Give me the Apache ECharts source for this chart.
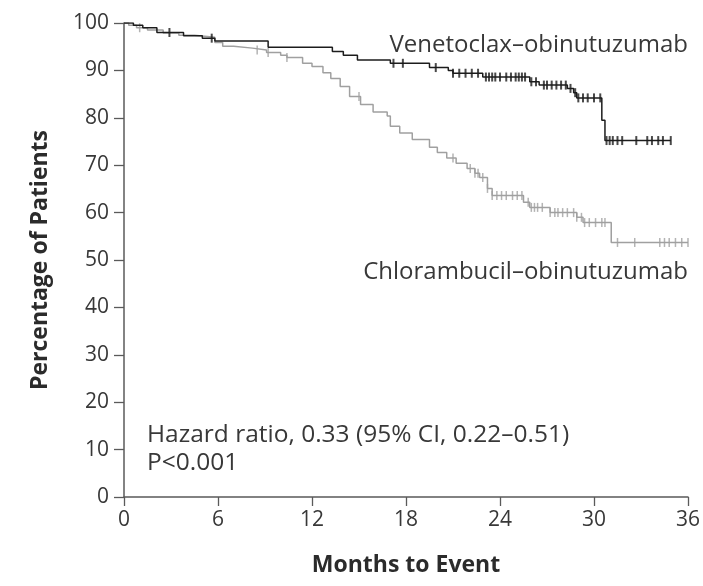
<!DOCTYPE html>
<html>
<head>
<meta charset="utf-8">
<script src="https://cdn.jsdelivr.net/npm/echarts@6/dist/echarts.min.js"></script>
<style>
  html, body { margin: 0; padding: 0; background: #fff; }
  #chart { width: 703px; height: 586px; }
</style>
</head>
<body>
<div id="chart"></div>
<script>
// Kaplan–Meier estimates: event times (months) and survival (%) after each step
const venTimes = [0, 0.6, 1.2, 2.1, 3.8, 5.0, 5.8, 9.2, 13.3, 14.0, 14.9, 17.0, 19.5, 20.7, 21.0, 22.9, 25.9, 26.5, 28.3, 28.7, 28.9, 30.5, 30.7];
const venSurv  = [100, 99.5, 99.0, 98.0, 97.3, 96.8, 96.2, 94.9, 94.0, 93.2, 92.2, 91.5, 90.6, 90.0, 89.4, 88.6, 87.6, 86.9, 86.2, 85.3, 84.2, 79.5, 75.2];
const venCensored = [2.9, 5.6, 17.2, 17.8, 19.9, 21.0, 21.4, 21.8, 22.2, 22.6, 23.1, 23.3, 23.5, 23.7, 24.0, 24.4, 24.7, 25.0, 25.2, 25.4, 25.6, 26.0, 26.3, 26.8, 27.0, 27.3, 27.6, 27.9, 28.2, 28.5, 28.8, 29.0, 29.3, 29.6, 30.0, 30.4, 30.8, 31.0, 31.2, 31.5, 31.8, 32.7, 33.4, 33.7, 34.1, 34.4, 34.9];

const chlTimes = [0, 0.3, 0.8, 1.5, 2.5, 3.5, 4.5, 5.8, 6.3, 7.0, 8.2, 9.1, 10.0, 10.4, 11.4, 12.0, 12.7, 13.2, 13.8, 14.4, 15.1, 15.9, 16.8, 17.0, 17.6, 18.4, 19.5, 20.0, 20.6, 21.2, 21.9, 22.4, 22.7, 23.2, 23.5, 25.5, 25.9, 27.2, 28.9, 29.3, 31.1];
const chlSurv  = [100, 99.5, 99.0, 98.5, 97.9, 97.4, 97.0, 95.9, 95.1, 94.7, 94.3, 93.8, 93.2, 92.7, 91.5, 90.8, 89.5, 88.3, 86.6, 84.5, 82.8, 81.2, 80.4, 78.2, 76.8, 75.4, 73.8, 72.7, 71.5, 70.4, 69.3, 68.3, 67.4, 65.1, 63.6, 62.2, 61.1, 60.0, 59.0, 57.9, 53.7];
const chlCensored = [1.0, 8.5, 9.2, 10.4, 15.0, 21.0, 22.1, 22.4, 22.6, 22.9, 23.2, 23.5, 23.8, 24.1, 24.4, 24.8, 25.1, 25.4, 25.8, 26.0, 26.2, 26.4, 26.7, 27.2, 27.5, 27.7, 28.0, 28.3, 28.7, 28.9, 29.2, 29.4, 29.7, 30.1, 30.5, 30.7, 31.5, 32.6, 34.2, 34.5, 34.8, 35.2, 35.6, 36.0];

const xTicks = [0, 6, 12, 18, 24, 30, 36];
const yTicks = [0, 10, 20, 30, 40, 50, 60, 70, 80, 90, 100];

// survival value in force at time t (right-continuous step function)
function survAt(times, surv, t) {
  let s = surv[0];
  for (let i = 0; i < times.length; i++) {
    if (times[i] <= t) s = surv[i]; else break;
  }
  return s;
}

function curve(times, surv, censored) {
  const pts = times.map((t, i) => [t, surv[i]]);
  const last = censored[censored.length - 1];
  pts.push([last, survAt(times, surv, last)]);
  return pts;
}

function marks(times, surv, censored) {
  return censored.map(t => [t, survAt(times, surv, t)]);
}

const venColor = '#1c1c1c';
const chlColor = '#a0a0a0';
const textColor = '#383838';
const fontFam = '"Open Sans", "Noto Sans", sans-serif';

const chart = echarts.init(document.getElementById('chart'), null, { renderer: 'canvas' });
chart.setOption({
  animation: false,
  backgroundColor: '#ffffff',
  grid: { left: 124, right: 15, top: 23, bottom: 89, containLabel: false },
  xAxis: {
    type: 'value',
    min: xTicks[0], max: xTicks[xTicks.length - 1], interval: 6,
    name: 'Months to Event',
    nameLocation: 'middle',
    nameGap: 57,
    nameTextStyle: { fontFamily: fontFam, fontSize: 23, fontWeight: 'bold', color: '#2b2b2b' },
    axisLine: { onZero: false, lineStyle: { color: '#5a5a5a', width: 1.5 } },
    axisTick: { show: true, length: 9, lineStyle: { color: '#5a5a5a', width: 1.3 } },
    axisLabel: { fontFamily: fontFam, fontSize: 21, color: textColor, margin: 13 },
    splitLine: { show: false }
  },
  yAxis: {
    type: 'value',
    min: yTicks[0], max: yTicks[yTicks.length - 1], interval: 10,
    name: 'Percentage of Patients',
    nameLocation: 'middle',
    nameGap: 72,
    nameRotate: 90,
    nameTextStyle: { fontFamily: fontFam, fontSize: 23, fontWeight: 'bold', color: '#2b2b2b' },
    axisLine: { show: true, onZero: false, lineStyle: { color: '#5a5a5a', width: 1.5 } },
    axisTick: { show: true, length: 10, lineStyle: { color: '#5a5a5a', width: 1.3 } },
    axisLabel: { fontFamily: fontFam, fontSize: 21, color: textColor, margin: 15 },
    splitLine: { show: false }
  },
  series: [
    {
      name: 'Chlorambucil–obinutuzumab',
      type: 'line', step: 'end', showSymbol: false, z: 2,
      data: curve(chlTimes, chlSurv, chlCensored),
      lineStyle: { color: chlColor, width: 1.5 }
    },
    {
      name: 'Chlorambucil censored',
      type: 'scatter', symbol: 'rect', symbolSize: [1.5, 9], z: 2,
      data: marks(chlTimes, chlSurv, chlCensored),
      itemStyle: { color: chlColor }
    },
    {
      name: 'Venetoclax–obinutuzumab',
      type: 'line', step: 'end', showSymbol: false, z: 3,
      data: curve(venTimes, venSurv, venCensored),
      lineStyle: { color: venColor, width: 1.5 }
    },
    {
      name: 'Venetoclax censored',
      type: 'scatter', symbol: 'rect', symbolSize: [2, 9], z: 3,
      data: marks(venTimes, venSurv, venCensored),
      itemStyle: { color: venColor }
    }
  ],
  graphic: [
    { type: 'text', x: 688, y: 45, style: { text: 'Venetoclax–obinutuzumab', align: 'right', verticalAlign: 'middle', font: '24px ' + fontFam, fill: textColor } },
    { type: 'text', x: 688, y: 272, style: { text: 'Chlorambucil–obinutuzumab', align: 'right', verticalAlign: 'middle', font: '24px ' + fontFam, fill: textColor } },
    { type: 'text', x: 147, y: 435, style: { text: 'Hazard ratio, 0.33 (95% CI, 0.22–0.51)', align: 'left', verticalAlign: 'middle', font: '24.5px ' + fontFam, fill: textColor } },
    { type: 'text', x: 147, y: 463, style: { text: 'P<0.001', align: 'left', verticalAlign: 'middle', font: '24.5px ' + fontFam, fill: textColor } }
  ]
});
</script>
</body>
</html>
